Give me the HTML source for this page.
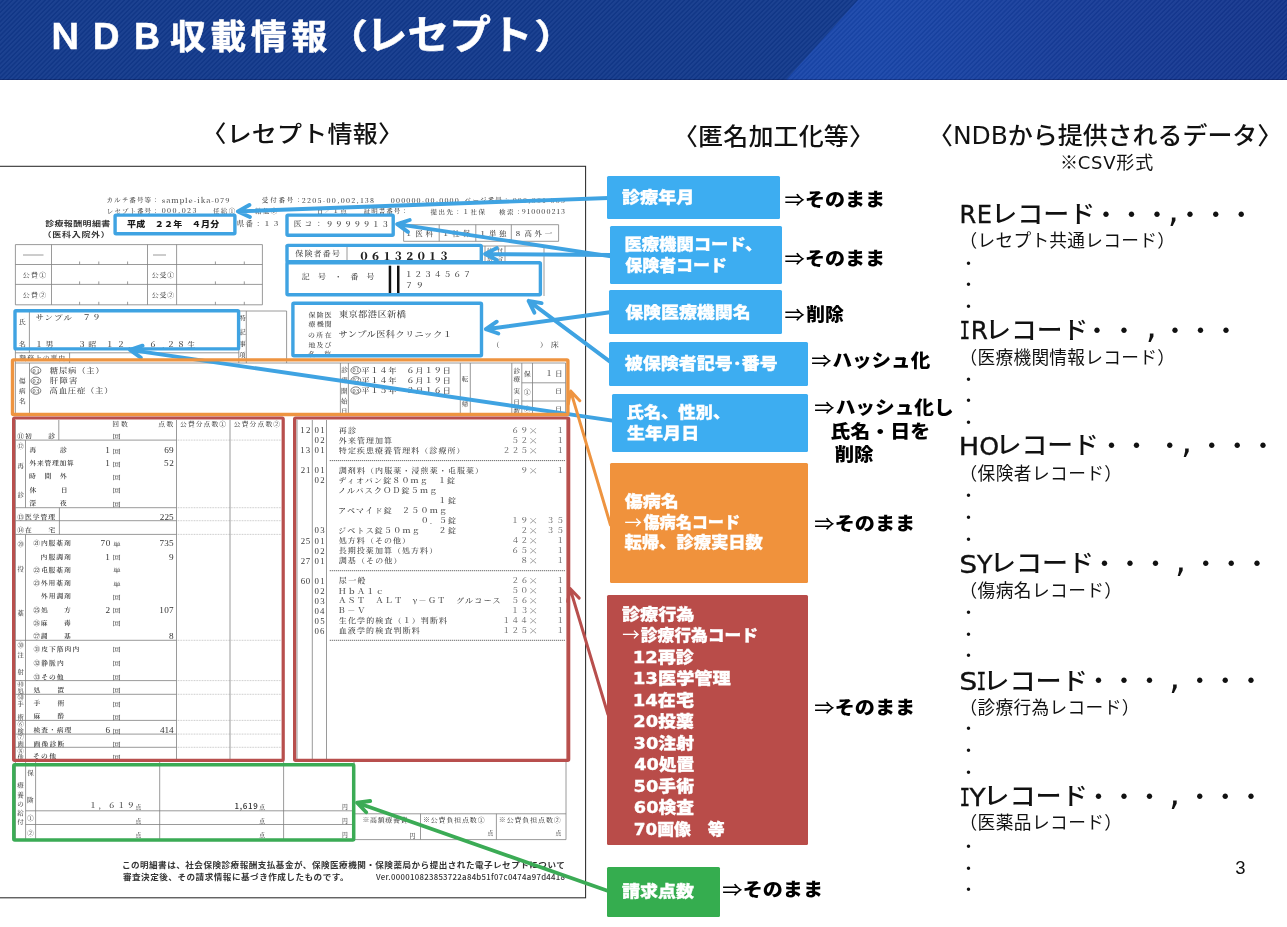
<!DOCTYPE html>
<html lang="ja">
<head>
<meta charset="utf-8">
<title>NDB収載情報（レセプト）</title>
<style>
*{margin:0;padding:0;box-sizing:border-box}
html,body{width:1287px;height:927px;overflow:hidden;background:#fff}
body{position:relative;font-family:'Noto Sans CJK JP','Liberation Sans',sans-serif;color:#000}
#slide{position:absolute;left:0;top:0;width:1287px;height:927px;overflow:hidden;background:#fff}
.b{position:absolute}
svg{position:absolute;left:0;top:0;overflow:visible}
text{white-space:pre}
.j{font-family:'Noto Sans CJK JP','Liberation Sans',sans-serif}
.d{font-family:'DejaVu Sans','Noto Sans CJK JP',sans-serif}
.s{font-family:'Liberation Sans','Noto Sans CJK JP',sans-serif}
.e{font-family:'Liberation Serif','Noto Serif CJK JP','Noto Serif CJK SC',serif}
.m{font-family:'Noto Serif CJK JP','Noto Serif CJK SC','Liberation Serif',serif}
.o{font-family:'Liberation Mono','Noto Sans CJK JP',monospace}
.k{font-family:'DejaVu Sans Mono','Liberation Mono',monospace}
.r{filter:blur(0.35px)}
</style>
</head>
<body>
<div id="slide">
<div class="b" id="hdr" style="left:0;top:0;width:1287px;height:79.6px;background:#12398c;overflow:hidden">
<div class="b" style="left:0;top:0;width:1287px;height:80px;background:linear-gradient(90deg,#1a49b1 0,#1946aa 880px,#173d9a 1050px,#14358c 1287px);clip-path:polygon(858px 0,1287px 0,1287px 80px,786px 80px)"></div>
<div class="b" style="left:0;top:0;width:1287px;height:80px;background:repeating-linear-gradient(135deg,rgba(255,255,255,0.045) 0,rgba(255,255,255,0.045) 1.2px,rgba(0,0,0,0.035) 1.9px,rgba(0,0,0,0.035) 2.8px,rgba(255,255,255,0.045) 3.3px)"></div>
<div class="b" style="left:0;top:78.6px;width:1287px;height:1px;background:rgba(0,0,40,0.25)"></div>
</div>
<svg width="1287" height="927" viewBox="0 0 1287 927"><rect x="-3" y="166.3" width="588.6" height="731.5" fill="#fff" stroke="#2a2a2a" stroke-width="1.05"/><g class="r"><path d="M403.6 224.7L558.6 224.7M403.6 241.3L558.6 241.3M403.6 224.7L403.6 241.3M439.2 224.7L439.2 241.3M475.8 224.7L475.8 241.3M511.3 224.7L511.3 241.3M558.6 224.7L558.6 241.3M15.4 244.6L262.4 244.6M15.4 264.5L262.4 264.5M15.4 284.4L262.4 284.4M15.4 304.8L262.4 304.8M15.4 244.6L15.4 304.8M51.5 244.6L51.5 304.8M147.5 244.6L147.5 304.8M176.6 244.6L176.6 304.8M262.4 244.6L262.4 304.8M79.6 261.5L79.6 264.5M98.8 261.5L98.8 264.5M127.6 261.5L127.6 264.5M215.4 261.5L215.4 264.5M244.3 261.5L244.3 264.5M79.6 281.4L79.6 284.4M98.8 281.4L98.8 284.4M127.6 281.4L127.6 284.4M215.4 281.4L215.4 284.4M244.3 281.4L244.3 284.4M79.6 301.8L79.6 304.8M98.8 301.8L98.8 304.8M127.6 301.8L127.6 304.8M215.4 301.8L215.4 304.8M244.3 301.8L244.3 304.8M23.0 255.0L43.5 255.0M153.0 255.0L166.0 255.0M285.5 246.0L544.0 246.0M347.0 246.0L347.0 262.0M544.0 246.0L544.0 296.0M485.0 246.0L485.0 262.0M505.0 246.0L505.0 262.0M29.4 311.0L29.4 352.8M15.4 352.8L238.8 352.8M69.6 352.8L69.6 363.0M15.4 311.0L15.4 363.0M238.8 311.0L238.8 363.0M246.3 311.0L246.3 363.0M286.6 311.0L286.6 363.0M238.8 311.0L286.6 311.0M15.4 363.0L565.6 363.0M15.4 414.0L565.6 414.0M15.4 363.0L15.4 414.0M29.5 363.0L29.5 414.0M340.4 363.0L340.4 414.0M348.4 363.0L348.4 414.0M460.3 363.0L460.3 414.0M470.3 363.0L470.3 414.0M511.8 363.0L511.8 414.0M521.8 363.0L521.8 414.0M532.5 363.0L532.5 414.0M565.6 363.0L565.6 414.0M521.8 382.8L565.6 382.8M521.8 401.0L565.6 401.0M15.4 420.0L15.4 761.0M176.5 420.0L176.5 761.0M230.0 420.0L230.0 761.0M283.6 420.0L283.6 840.0M25.5 440.1L25.5 507.7M25.5 534.4L25.5 761.0M58.8 420.0L58.8 440.1M59.4 507.7L59.4 534.4M15.4 440.1L176.5 440.1M15.4 507.7L176.5 507.7M15.4 520.7L176.5 520.7M15.4 534.4L176.5 534.4M15.4 640.3L176.5 640.3M15.4 680.6L176.5 680.6M15.4 694.3L176.5 694.3M15.4 720.4L176.5 720.4M15.4 734.1L176.5 734.1M15.4 747.3L176.5 747.3M297.0 420.0L297.0 761.0M312.3 420.0L312.3 761.0M326.5 420.0L326.5 761.0M566.0 762.0L566.0 839.6M15.4 764.0L355.0 764.0M15.4 839.6L566.0 839.6M15.4 762.0L15.4 839.6M25.6 762.0L25.6 839.6M35.6 762.0L35.6 839.6M159.7 762.0L159.7 839.6M25.6 810.8L355.0 810.8M25.6 824.5L355.0 824.5M354.0 762.0L354.0 839.6M355.0 813.8L566.0 813.8M420.5 813.8L420.5 839.6M496.4 813.8L496.4 839.6" stroke="#808080" stroke-width="0.8" fill="none"/><path d="M176.5 440.1L281.0 440.1M176.5 507.7L281.0 507.7M176.5 520.7L281.0 520.7M176.5 534.4L281.0 534.4M176.5 640.3L281.0 640.3M176.5 680.6L281.0 680.6M176.5 694.3L281.0 694.3M176.5 720.4L281.0 720.4M176.5 734.1L281.0 734.1M176.5 747.3L281.0 747.3" stroke="#999" stroke-width="0.6" stroke-dasharray="0.8 0.8" fill="none"/><path d="M329.8 460.6L564.8 460.6M329.8 570.7L564.8 570.7M329.8 640.3L564.8 640.3" stroke="#333" stroke-width="0.9" stroke-dasharray="1 1" fill="none"/><ellipse cx="35.9" cy="370.5" rx="4.9" ry="3.6" fill="none" stroke="#444" stroke-width="0.7"/><ellipse cx="35.9" cy="380.8" rx="4.9" ry="3.6" fill="none" stroke="#444" stroke-width="0.7"/><ellipse cx="35.9" cy="390.7" rx="4.9" ry="3.6" fill="none" stroke="#444" stroke-width="0.7"/><ellipse cx="355.8" cy="370.3" rx="4.9" ry="3.6" fill="none" stroke="#444" stroke-width="0.7"/><ellipse cx="355.8" cy="380.3" rx="4.9" ry="3.6" fill="none" stroke="#444" stroke-width="0.7"/><ellipse cx="355.8" cy="390.5" rx="4.9" ry="3.6" fill="none" stroke="#444" stroke-width="0.7"/><rect x="388.7" y="265.7" width="2.5" height="28" fill="#111"/><rect x="397" y="265.7" width="2.5" height="28" fill="#111"/></g></svg>
<svg width="1287" height="927" viewBox="0 0 1287 927"><g class="r">
<text class="m" x="106.39" y="202.69" font-size="6.51" font-weight="500" fill="#444" letter-spacing="1.131" transform="translate(107.00 200.30) scale(1 0.88) translate(-107.00 -200.30)">カルテ番号等：</text>
<text class="m" x="161.65" y="202.97" font-size="7.44" font-weight="500" fill="#444" letter-spacing="0.945" transform="translate(162.00 200.30) scale(1 0.88) translate(-162.00 -200.30)">sample-ika-079</text>
<text class="m" x="106.88" y="212.89" font-size="6.51" font-weight="500" fill="#444" letter-spacing="1.049" transform="translate(108.00 210.50) scale(1 0.88) translate(-108.00 -210.50)">レセプト番号：</text>
<text class="m" x="161.67" y="213.04" font-size="7.07" font-weight="500" fill="#444" letter-spacing="1.423" transform="translate(162.00 210.50) scale(1 0.88) translate(-162.00 -210.50)">000,023</text>
<text class="m" x="212.90" y="212.89" font-size="6.51" font-weight="500" fill="#444" letter-spacing="1.388" transform="translate(213.00 210.50) scale(1 0.88) translate(-213.00 -210.50)">任給①</text>
<text class="m" x="261.80" y="202.69" font-size="6.51" font-weight="500" fill="#444" letter-spacing="1.850" transform="translate(262.00 200.30) scale(1 0.88) translate(-262.00 -200.30)">受付番号：</text>
<text class="m" x="301.67" y="202.84" font-size="7.07" font-weight="500" fill="#444" letter-spacing="1.280" transform="translate(302.00 200.30) scale(1 0.88) translate(-302.00 -200.30)">2205-00,002,138</text>
<text class="m" x="390.87" y="202.84" font-size="7.07" font-weight="500" fill="#444" letter-spacing="1.145" transform="translate(391.20 200.30) scale(1 0.88) translate(-391.20 -200.30)">000000-00-0000</text>
<text class="m" x="464.69" y="202.69" font-size="6.51" font-weight="500" fill="#444" letter-spacing="1.198" transform="translate(465.00 200.30) scale(1 0.88) translate(-465.00 -200.30)">ページ番号：</text>
<text class="m" x="512.67" y="202.84" font-size="7.07" font-weight="500" fill="#444" letter-spacing="1.215" transform="translate(513.00 200.30) scale(1 0.88) translate(-513.00 -200.30)">000,001-003</text>
<text class="m" x="254.90" y="213.39" font-size="6.51" font-weight="500" fill="#444" letter-spacing="1.388" transform="translate(255.00 211.00) scale(1 0.88) translate(-255.00 -211.00)">給他②</text>
<text class="m" x="316.78" y="213.39" font-size="6.51" font-weight="500" fill="#444" letter-spacing="1.326" transform="translate(318.00 211.00) scale(1 0.88) translate(-318.00 -211.00)">日／１点</text>
<text class="m" x="363.80" y="213.39" font-size="6.51" font-weight="500" fill="#444" letter-spacing="0.978" transform="translate(364.00 211.00) scale(1 0.88) translate(-364.00 -211.00)">証明書番号：</text>
<text class="m" x="430.40" y="213.89" font-size="6.51" font-weight="500" fill="#444" letter-spacing="1.522" transform="translate(430.50 211.50) scale(1 0.88) translate(-430.50 -211.50)">提出先：１社保</text>
<text class="m" x="498.90" y="213.89" font-size="6.51" font-weight="500" fill="#444" letter-spacing="1.659" transform="translate(499.00 211.50) scale(1 0.88) translate(-499.00 -211.50)">検索：</text>
<text class="m" x="521.78" y="214.04" font-size="7.07" font-weight="500" fill="#444" letter-spacing="1.057" transform="translate(522.00 211.50) scale(1 0.88) translate(-522.00 -211.50)">910000213</text>
<text class="j" x="45.16" y="226.93" font-size="9.00" font-weight="700" fill="#333" letter-spacing="0.377" transform="translate(45.30 223.70) scale(1 0.82) translate(-45.30 -223.70)">診療報酬明細書</text>
<text class="j" x="42.59" y="237.23" font-size="9.00" font-weight="700" fill="#333" letter-spacing="0.719" transform="translate(48.50 234.00) scale(1 0.82) translate(-48.50 -234.00)">（医科入院外）</text>
<text class="j" x="127.12" y="227.10" font-size="9.00" font-weight="900" fill="#1a1a1a" letter-spacing="0.253" transform="translate(127.40 223.80) scale(1 0.88) translate(-127.40 -223.80)">平成　２２年　４月分</text>
<text class="m" x="236.65" y="226.73" font-size="7.44" font-weight="500" fill="#444" letter-spacing="1.473" transform="translate(237.00 224.00) scale(1 0.88) translate(-237.00 -224.00)">県番：１３</text>
<text class="m" x="293.69" y="226.80" font-size="7.63" font-weight="500" fill="#444" letter-spacing="3.077" transform="translate(294.40 224.00) scale(1 0.88) translate(-294.40 -224.00)">医コ：</text>
<text class="m" x="325.71" y="226.86" font-size="7.63" font-weight="500" fill="#444" letter-spacing="1.665" transform="translate(327.50 224.00) scale(1 0.88) translate(-327.50 -224.00)">９９９９９１３</text>
<text class="m" x="404.91" y="236.23" font-size="7.44" font-weight="500" fill="#444" letter-spacing="2.886" transform="translate(407.00 233.50) scale(1 0.88) translate(-407.00 -233.50)">１医科</text>
<text class="m" x="441.91" y="236.23" font-size="7.44" font-weight="500" fill="#444" letter-spacing="2.944" transform="translate(444.00 233.50) scale(1 0.88) translate(-444.00 -233.50)">１社保</text>
<text class="m" x="478.91" y="236.23" font-size="7.44" font-weight="500" fill="#444" letter-spacing="2.654" transform="translate(481.00 233.50) scale(1 0.88) translate(-481.00 -233.50)">１単独</text>
<text class="m" x="514.26" y="236.23" font-size="7.44" font-weight="500" fill="#444" letter-spacing="2.739" transform="translate(516.00 233.50) scale(1 0.88) translate(-516.00 -233.50)">８高外一</text>
<text class="m" x="22.78" y="277.56" font-size="6.98" font-weight="500" fill="#444" letter-spacing="1.255" transform="translate(23.00 275.00) scale(1 0.88) translate(-23.00 -275.00)">公費①</text>
<text class="m" x="22.78" y="297.16" font-size="6.98" font-weight="500" fill="#444" letter-spacing="1.255" transform="translate(23.00 294.60) scale(1 0.88) translate(-23.00 -294.60)">公費②</text>
<text class="m" x="151.78" y="277.56" font-size="6.98" font-weight="500" fill="#444" letter-spacing="0.755" transform="translate(152.00 275.00) scale(1 0.88) translate(-152.00 -275.00)">公受①</text>
<text class="m" x="151.78" y="297.16" font-size="6.98" font-weight="500" fill="#444" letter-spacing="0.755" transform="translate(152.00 294.60) scale(1 0.88) translate(-152.00 -294.60)">公受②</text>
<text class="m" x="295.28" y="256.74" font-size="8.00" font-weight="500" fill="#444" letter-spacing="1.171" transform="translate(295.40 253.80) scale(1 0.88) translate(-295.40 -253.80)">保険者番号</text>
<text class="m" x="358.83" y="259.74" font-size="10.50" font-weight="900" fill="#222" letter-spacing="0.924">０６１３２０１３</text>
<text class="m" x="486.91" y="252.55" font-size="5.58" font-weight="500" fill="#444" letter-spacing="5.014" transform="translate(487.00 250.50) scale(1 0.88) translate(-487.00 -250.50)">給付</text>
<text class="m" x="487.00" y="260.05" font-size="5.58" font-weight="500" fill="#444" letter-spacing="4.927" transform="translate(487.00 258.00) scale(1 0.88) translate(-487.00 -258.00)">割合</text>
<text class="m" x="301.75" y="279.34" font-size="8.00" font-weight="500" fill="#444" letter-spacing="0.127" transform="translate(302.00 276.40) scale(1 0.88) translate(-302.00 -276.40)">記　号　・　番　号</text>
<text class="m" x="404.65" y="277.00" font-size="8.00" font-weight="500" fill="#444" letter-spacing="1.727" transform="translate(406.90 274.00) scale(1 0.88) translate(-406.90 -274.00)">１２３４５６７</text>
<text class="m" x="405.03" y="288.00" font-size="8.00" font-weight="500" fill="#444" letter-spacing="2.728" transform="translate(406.90 285.00) scale(1 0.88) translate(-406.90 -285.00)">７９</text>
<text class="m" x="18.86" y="324.26" font-size="6.98" font-weight="500" fill="#444" transform="translate(19.18 321.70) scale(1 0.88) translate(-19.18 -321.70)">氏</text><text class="m" x="19.08" y="346.22" font-size="6.98" font-weight="500" fill="#444" transform="translate(19.29 343.60) scale(1 0.88) translate(-19.29 -343.60)">名</text>
<text class="m" x="35.48" y="320.07" font-size="8.37" font-weight="500" fill="#444" letter-spacing="1.211" transform="translate(36.00 317.00) scale(1 0.88) translate(-36.00 -317.00)">サンプル　７９</text>
<text class="m" x="35.05" y="346.94" font-size="8.00" font-weight="500" fill="#444" letter-spacing="2.578" transform="translate(37.30 344.00) scale(1 0.88) translate(-37.30 -344.00)">１男</text>
<text class="m" x="78.00" y="346.94" font-size="8.00" font-weight="500" fill="#444" letter-spacing="2.253" transform="translate(80.00 344.00) scale(1 0.88) translate(-80.00 -344.00)">３昭</text>
<text class="m" x="105.75" y="347.06" font-size="8.00" font-weight="500" fill="#444" letter-spacing="3.189" transform="translate(108.00 344.00) scale(1 0.88) translate(-108.00 -344.00)">１２．</text>
<text class="m" x="149.13" y="347.00" font-size="8.00" font-weight="500" fill="#444" letter-spacing="5.002" transform="translate(151.00 344.00) scale(1 0.88) translate(-151.00 -344.00)">６．</text>
<text class="m" x="167.00" y="346.94" font-size="8.00" font-weight="500" fill="#444" letter-spacing="2.128" transform="translate(169.00 344.00) scale(1 0.88) translate(-169.00 -344.00)">２８生</text>
<text class="m" x="19.29" y="360.36" font-size="6.98" font-weight="500" fill="#444" letter-spacing="0.821" transform="translate(19.40 357.80) scale(1 0.88) translate(-19.40 -357.80)">職務上の事由</text>
<text class="m" x="239.73" y="320.27" font-size="6.04" font-weight="500" fill="#444" transform="translate(239.82 318.00) scale(1 0.88) translate(-239.82 -318.00)">特</text><text class="m" x="239.77" y="333.87" font-size="6.04" font-weight="500" fill="#444" transform="translate(239.96 331.60) scale(1 0.88) translate(-239.96 -331.60)">記</text><text class="m" x="239.68" y="346.27" font-size="6.04" font-weight="500" fill="#444" transform="translate(239.87 344.00) scale(1 0.88) translate(-239.87 -344.00)">事</text><text class="m" x="239.59" y="357.17" font-size="6.04" font-weight="500" fill="#444" transform="translate(239.77 355.00) scale(1 0.88) translate(-239.77 -355.00)">項</text>
<text class="m" x="308.49" y="317.26" font-size="6.98" font-weight="500" fill="#444" letter-spacing="1.151" transform="translate(308.60 314.70) scale(1 0.88) translate(-308.60 -314.70)">保険医</text>
<text class="m" x="308.49" y="326.76" font-size="6.98" font-weight="500" fill="#444" letter-spacing="1.205" transform="translate(308.60 324.20) scale(1 0.88) translate(-308.60 -324.20)">療機関</text>
<text class="m" x="307.95" y="337.46" font-size="6.98" font-weight="500" fill="#444" letter-spacing="1.423" transform="translate(308.60 334.90) scale(1 0.88) translate(-308.60 -334.90)">の所在</text>
<text class="m" x="308.49" y="347.16" font-size="6.98" font-weight="500" fill="#444" letter-spacing="1.096" transform="translate(308.60 344.60) scale(1 0.88) translate(-308.60 -344.60)">地及び</text>
<text class="m" x="308.38" y="356.56" font-size="6.98" font-weight="500" fill="#444" letter-spacing="0.933" transform="translate(308.60 354.00) scale(1 0.88) translate(-308.60 -354.00)">名　称</text>
<text class="m" x="338.91" y="317.58" font-size="9.21" font-weight="500" fill="#444" letter-spacing="0.421" transform="translate(339.20 314.20) scale(1 0.84) translate(-339.20 -314.20)">東京都港区新橋</text>
<text class="m" x="338.62" y="337.38" font-size="9.21" font-weight="500" fill="#444" letter-spacing="0.394" transform="translate(339.20 334.00) scale(1 0.84) translate(-339.20 -334.00)">サンプル医科クリニック１</text>
<text class="m" x="491.88" y="347.06" font-size="8.00" font-weight="500" fill="#444" transform="translate(497.00 344.00) scale(1 0.88) translate(-497.00 -344.00)">（</text>
<text class="m" x="539.63" y="346.94" font-size="8.00" font-weight="500" fill="#444" letter-spacing="3.104" transform="translate(540.00 344.00) scale(1 0.88) translate(-540.00 -344.00)">）床</text>
<text class="m" x="18.77" y="383.62" font-size="6.98" font-weight="500" fill="#444" transform="translate(18.88 381.00) scale(1 0.88) translate(-18.88 -381.00)">傷</text><text class="m" x="18.77" y="393.32" font-size="6.98" font-weight="500" fill="#444" transform="translate(18.88 390.70) scale(1 0.88) translate(-18.88 -390.70)">病</text><text class="m" x="18.88" y="403.12" font-size="6.98" font-weight="500" fill="#444" transform="translate(19.09 400.50) scale(1 0.88) translate(-19.09 -400.50)">名</text>
<text class="e" x="32.41" y="372.53" font-size="6.20" fill="#444" letter-spacing="0.884">01</text>
<text class="m" x="49.87" y="373.57" font-size="8.37" font-weight="500" fill="#444" letter-spacing="0.755" transform="translate(50.00 370.50) scale(1 0.88) translate(-50.00 -370.50)">糖尿病（主）</text>
<text class="e" x="32.41" y="382.83" font-size="6.20" fill="#444" letter-spacing="0.884">02</text>
<text class="m" x="49.87" y="383.87" font-size="8.37" font-weight="500" fill="#444" letter-spacing="1.191" transform="translate(50.00 380.80) scale(1 0.88) translate(-50.00 -380.80)">肝障害</text>
<text class="e" x="32.41" y="392.73" font-size="6.20" fill="#444" letter-spacing="0.788">03</text>
<text class="m" x="49.61" y="393.77" font-size="8.37" font-weight="500" fill="#444" letter-spacing="0.744" transform="translate(50.00 390.70) scale(1 0.88) translate(-50.00 -390.70)">高血圧症（主）</text>
<text class="m" x="341.19" y="372.74" font-size="6.51" font-weight="500" fill="#444" transform="translate(341.40 370.30) scale(1 0.88) translate(-341.40 -370.30)">診</text><text class="m" x="341.25" y="382.74" font-size="6.51" font-weight="500" fill="#444" transform="translate(341.35 380.30) scale(1 0.88) translate(-341.35 -380.30)">療</text><text class="m" x="341.09" y="393.39" font-size="6.51" font-weight="500" fill="#444" transform="translate(341.70 391.00) scale(1 0.88) translate(-341.70 -391.00)">開</text><text class="m" x="341.04" y="403.44" font-size="6.51" font-weight="500" fill="#444" transform="translate(341.14 401.00) scale(1 0.88) translate(-341.14 -401.00)">始</text><text class="m" x="341.09" y="413.34" font-size="6.51" font-weight="500" fill="#444" transform="translate(342.31 411.00) scale(1 0.88) translate(-342.31 -411.00)">日</text>
<text class="e" x="352.41" y="372.33" font-size="6.20" fill="#444" letter-spacing="0.684">01</text>
<text class="m" x="361.24" y="373.37" font-size="8.37" font-weight="500" fill="#444" letter-spacing="0.660" transform="translate(361.50 370.30) scale(1 0.88) translate(-361.50 -370.30)">平１４年　６月１９日</text>
<text class="e" x="352.41" y="382.33" font-size="6.20" fill="#444" letter-spacing="0.684">02</text>
<text class="m" x="361.24" y="383.37" font-size="8.37" font-weight="500" fill="#444" letter-spacing="0.660" transform="translate(361.50 380.30) scale(1 0.88) translate(-361.50 -380.30)">平１４年　６月１９日</text>
<text class="e" x="352.41" y="392.53" font-size="6.20" fill="#444" letter-spacing="0.587">03</text>
<text class="m" x="361.24" y="393.57" font-size="8.37" font-weight="500" fill="#444" letter-spacing="0.660" transform="translate(361.50 390.50) scale(1 0.88) translate(-361.50 -390.50)">平１５年　２月１６日</text>
<text class="m" x="461.74" y="380.89" font-size="6.51" font-weight="500" fill="#444" transform="translate(461.94 378.60) scale(1 0.88) translate(-461.94 -378.60)">転</text><text class="m" x="461.84" y="406.64" font-size="6.51" font-weight="500" fill="#444" transform="translate(462.25 404.20) scale(1 0.88) translate(-462.25 -404.20)">帰</text><text class="m" x="513.44" y="373.74" font-size="6.51" font-weight="500" fill="#444" transform="translate(513.65 371.30) scale(1 0.88) translate(-513.65 -371.30)">診</text><text class="m" x="513.50" y="381.74" font-size="6.51" font-weight="500" fill="#444" transform="translate(513.60 379.30) scale(1 0.88) translate(-513.60 -379.30)">療</text><text class="m" x="513.44" y="393.34" font-size="6.51" font-weight="500" fill="#444" transform="translate(513.75 390.90) scale(1 0.88) translate(-513.75 -390.90)">実</text><text class="m" x="513.34" y="403.94" font-size="6.51" font-weight="500" fill="#444" transform="translate(514.56 401.60) scale(1 0.88) translate(-514.56 -401.60)">日</text><text class="m" x="513.50" y="413.74" font-size="6.51" font-weight="500" fill="#444" transform="translate(513.60 411.30) scale(1 0.88) translate(-513.60 -411.30)">数</text><text class="m" x="523.76" y="376.22" font-size="6.98" font-weight="500" fill="#444" transform="translate(523.87 373.60) scale(1 0.88) translate(-523.87 -373.60)">保</text>
<text class="m" x="523.76" y="394.37" font-size="6.98" font-weight="500" fill="#444" transform="translate(523.98 391.70) scale(1 0.88) translate(-523.98 -391.70)">①</text>
<text class="m" x="523.76" y="411.07" font-size="6.98" font-weight="500" fill="#444" transform="translate(523.98 408.40) scale(1 0.88) translate(-523.98 -408.40)">②</text>
<text class="m" x="545.26" y="376.40" font-size="7.63" font-weight="500" fill="#444" letter-spacing="2.165" transform="translate(547.40 373.60) scale(1 0.88) translate(-547.40 -373.60)">１日</text>
<text class="m" x="554.95" y="393.01" font-size="6.98" font-weight="500" fill="#444" transform="translate(556.26 390.50) scale(1 0.88) translate(-556.26 -390.50)">日</text><text class="m" x="554.95" y="410.91" font-size="6.98" font-weight="500" fill="#444" transform="translate(556.26 408.40) scale(1 0.88) translate(-556.26 -408.40)">日</text>
<text class="m" x="112.36" y="426.79" font-size="6.79" font-weight="500" fill="#444" letter-spacing="1.865" transform="translate(113.00 424.30) scale(1 0.88) translate(-113.00 -424.30)">回数</text>
<text class="m" x="158.29" y="426.79" font-size="6.79" font-weight="500" fill="#444" letter-spacing="1.540" transform="translate(158.50 424.30) scale(1 0.88) translate(-158.50 -424.30)">点数</text>
<text class="m" x="180.09" y="426.79" font-size="6.79" font-weight="500" fill="#444" letter-spacing="1.078" transform="translate(180.30 424.30) scale(1 0.88) translate(-180.30 -424.30)">公費分点数①</text>
<text class="m" x="233.79" y="426.79" font-size="6.79" font-weight="500" fill="#444" letter-spacing="1.138" transform="translate(234.00 424.30) scale(1 0.88) translate(-234.00 -424.30)">公費分点数②</text>
<text class="m" x="17.19" y="438.35" font-size="6.79" font-weight="600" fill="#3c3c3c" letter-spacing="1.017" transform="translate(17.40 435.80) scale(1 0.88) translate(-17.40 -435.80)">⑪初　　診</text>
<text class="m" x="112.62" y="438.90" font-size="6.14" fill="#444" transform="translate(113.20 436.60) scale(1.4289 0.8) translate(-113.20 -436.60)">回</text>
<text class="m" x="29.39" y="452.75" font-size="6.79" font-weight="600" fill="#3c3c3c" letter-spacing="0.865" transform="translate(29.50 450.20) scale(1 0.88) translate(-29.50 -450.20)">再　　　診</text>
<text class="m" x="112.62" y="453.30" font-size="6.14" fill="#444" transform="translate(113.20 451.00) scale(1.4289 0.8) translate(-113.20 -451.00)">回</text>
<text class="e" x="105.36" y="453.29" font-size="9.20" fill="#333">1</text>
<text class="e" x="164.21" y="453.22" font-size="9.20" fill="#333" letter-spacing="0.275">69</text>
<text class="m" x="29.39" y="465.65" font-size="6.79" font-weight="600" fill="#3c3c3c" letter-spacing="0.777" transform="translate(29.50 463.10) scale(1 0.88) translate(-29.50 -463.10)">外来管理加算</text>
<text class="m" x="112.62" y="466.20" font-size="6.14" fill="#444" transform="translate(113.20 463.90) scale(1.4289 0.8) translate(-113.20 -463.90)">回</text>
<text class="e" x="105.36" y="466.19" font-size="9.20" fill="#333">1</text>
<text class="e" x="164.07" y="466.12" font-size="9.20" fill="#333" letter-spacing="0.563">52</text>
<text class="m" x="29.08" y="478.75" font-size="6.79" font-weight="600" fill="#3c3c3c" letter-spacing="0.945" transform="translate(29.50 476.20) scale(1 0.88) translate(-29.50 -476.20)">時　間　外</text>
<text class="m" x="112.62" y="479.30" font-size="6.14" fill="#444" transform="translate(113.20 477.00) scale(1.4289 0.8) translate(-113.20 -477.00)">回</text>
<text class="m" x="29.39" y="492.25" font-size="6.79" font-weight="600" fill="#3c3c3c" letter-spacing="1.104" transform="translate(29.50 489.70) scale(1 0.88) translate(-29.50 -489.70)">休　　　日</text>
<text class="m" x="112.62" y="492.80" font-size="6.14" fill="#444" transform="translate(113.20 490.50) scale(1.4289 0.8) translate(-113.20 -490.50)">回</text>
<text class="m" x="29.29" y="505.55" font-size="6.79" font-weight="600" fill="#3c3c3c" letter-spacing="0.918" transform="translate(29.50 503.00) scale(1 0.88) translate(-29.50 -503.00)">深　　　夜</text>
<text class="m" x="112.62" y="506.10" font-size="6.14" fill="#444" transform="translate(113.20 503.80) scale(1.4289 0.8) translate(-113.20 -503.80)">回</text>
<text class="m" x="17.19" y="519.05" font-size="6.79" font-weight="600" fill="#3c3c3c" letter-spacing="1.017" transform="translate(17.40 516.50) scale(1 0.88) translate(-17.40 -516.50)">⑬医学管理</text>
<text class="e" x="159.76" y="519.52" font-size="9.20" fill="#333" letter-spacing="0.062">225</text>
<text class="m" x="17.19" y="532.25" font-size="6.79" font-weight="600" fill="#3c3c3c" letter-spacing="1.070" transform="translate(17.40 529.70) scale(1 0.88) translate(-17.40 -529.70)">⑭在　　宅</text>
<text class="m" x="33.19" y="545.55" font-size="6.79" font-weight="600" fill="#3c3c3c" letter-spacing="0.945" transform="translate(33.40 543.00) scale(1 0.88) translate(-33.40 -543.00)">㉑内服薬剤</text>
<text class="m" x="113.01" y="546.10" font-size="6.14" fill="#444" transform="translate(113.20 543.80) scale(1.286 0.8) translate(-113.20 -543.80)">単</text>
<text class="e" x="100.62" y="546.02" font-size="9.20" fill="#333" letter-spacing="0.462">70</text>
<text class="e" x="159.48" y="546.02" font-size="9.20" fill="#333" letter-spacing="0.206">735</text>
<text class="m" x="40.56" y="559.15" font-size="6.79" font-weight="600" fill="#3c3c3c" letter-spacing="1.064" transform="translate(41.20 556.60) scale(1 0.88) translate(-41.20 -556.60)">内服調剤</text>
<text class="m" x="112.62" y="559.70" font-size="6.14" fill="#444" transform="translate(113.20 557.40) scale(1.4289 0.8) translate(-113.20 -557.40)">回</text>
<text class="e" x="105.36" y="559.69" font-size="9.20" fill="#333">1</text>
<text class="e" x="168.88" y="559.62" font-size="9.20" fill="#333">9</text>
<text class="m" x="33.19" y="572.35" font-size="6.79" font-weight="600" fill="#3c3c3c" letter-spacing="0.945" transform="translate(33.40 569.80) scale(1 0.88) translate(-33.40 -569.80)">㉒屯服薬剤</text>
<text class="m" x="113.01" y="572.90" font-size="6.14" fill="#444" transform="translate(113.20 570.60) scale(1.286 0.8) translate(-113.20 -570.60)">単</text>
<text class="m" x="33.19" y="585.45" font-size="6.79" font-weight="600" fill="#3c3c3c" letter-spacing="0.945" transform="translate(33.40 582.90) scale(1 0.88) translate(-33.40 -582.90)">㉓外用薬剤</text>
<text class="m" x="113.01" y="586.00" font-size="6.14" fill="#444" transform="translate(113.20 583.70) scale(1.286 0.8) translate(-113.20 -583.70)">単</text>
<text class="m" x="41.09" y="598.75" font-size="6.79" font-weight="600" fill="#3c3c3c" letter-spacing="0.887" transform="translate(41.20 596.20) scale(1 0.88) translate(-41.20 -596.20)">外用調剤</text>
<text class="m" x="112.62" y="599.30" font-size="6.14" fill="#444" transform="translate(113.20 597.00) scale(1.4289 0.8) translate(-113.20 -597.00)">回</text>
<text class="m" x="33.19" y="612.35" font-size="6.79" font-weight="600" fill="#3c3c3c" letter-spacing="0.945" transform="translate(33.40 609.80) scale(1 0.88) translate(-33.40 -609.80)">㉕処　　方</text>
<text class="m" x="112.62" y="612.90" font-size="6.14" fill="#444" transform="translate(113.20 610.60) scale(1.4289 0.8) translate(-113.20 -610.60)">回</text>
<text class="e" x="105.57" y="612.89" font-size="9.20" fill="#333">2</text>
<text class="e" x="159.33" y="612.82" font-size="9.20" fill="#333" letter-spacing="0.206">107</text>
<text class="m" x="33.19" y="625.15" font-size="6.79" font-weight="600" fill="#3c3c3c" letter-spacing="0.918" transform="translate(33.40 622.60) scale(1 0.88) translate(-33.40 -622.60)">㉖麻　　毒</text>
<text class="m" x="112.62" y="625.70" font-size="6.14" fill="#444" transform="translate(113.20 623.40) scale(1.4289 0.8) translate(-113.20 -623.40)">回</text>
<text class="m" x="33.19" y="638.55" font-size="6.79" font-weight="600" fill="#3c3c3c" letter-spacing="0.918" transform="translate(33.40 636.00) scale(1 0.88) translate(-33.40 -636.00)">㉗調　　基</text>
<text class="e" x="168.88" y="639.02" font-size="9.20" fill="#333">8</text>
<text class="m" x="33.39" y="651.35" font-size="6.79" font-weight="600" fill="#3c3c3c" letter-spacing="1.039" transform="translate(33.60 648.80) scale(1 0.88) translate(-33.60 -648.80)">㉛皮下筋肉内</text>
<text class="m" x="112.62" y="651.90" font-size="6.14" fill="#444" transform="translate(113.20 649.60) scale(1.4289 0.8) translate(-113.20 -649.60)">回</text>
<text class="m" x="33.39" y="665.25" font-size="6.79" font-weight="600" fill="#3c3c3c" letter-spacing="1.091" transform="translate(33.60 662.70) scale(1 0.88) translate(-33.60 -662.70)">㉜静脈内</text>
<text class="m" x="112.62" y="665.80" font-size="6.14" fill="#444" transform="translate(113.20 663.50) scale(1.4289 0.8) translate(-113.20 -663.50)">回</text>
<text class="m" x="33.39" y="679.05" font-size="6.79" font-weight="600" fill="#3c3c3c" letter-spacing="1.021" transform="translate(33.60 676.50) scale(1 0.88) translate(-33.60 -676.50)">㉝その他</text>
<text class="m" x="112.62" y="679.60" font-size="6.14" fill="#444" transform="translate(113.20 677.30) scale(1.4289 0.8) translate(-113.20 -677.30)">回</text>
<text class="m" x="33.49" y="692.05" font-size="6.79" font-weight="600" fill="#3c3c3c" letter-spacing="1.254" transform="translate(33.60 689.50) scale(1 0.88) translate(-33.60 -689.50)">処　　置</text>
<text class="m" x="112.62" y="692.60" font-size="6.14" fill="#444" transform="translate(113.20 690.30) scale(1.4289 0.8) translate(-113.20 -690.30)">回</text>
<text class="m" x="33.49" y="705.55" font-size="6.79" font-weight="600" fill="#3c3c3c" letter-spacing="1.219" transform="translate(33.60 703.00) scale(1 0.88) translate(-33.60 -703.00)">手　　術</text>
<text class="m" x="112.62" y="706.10" font-size="6.14" fill="#444" transform="translate(113.20 703.80) scale(1.4289 0.8) translate(-113.20 -703.80)">回</text>
<text class="m" x="33.39" y="718.55" font-size="6.79" font-weight="600" fill="#3c3c3c" letter-spacing="1.254" transform="translate(33.60 716.00) scale(1 0.88) translate(-33.60 -716.00)">麻　　酔</text>
<text class="m" x="112.62" y="719.10" font-size="6.14" fill="#444" transform="translate(113.20 716.80) scale(1.4289 0.8) translate(-113.20 -716.80)">回</text>
<text class="m" x="33.49" y="732.55" font-size="6.79" font-weight="600" fill="#3c3c3c" letter-spacing="0.990" transform="translate(33.60 730.00) scale(1 0.88) translate(-33.60 -730.00)">検査・病理</text>
<text class="m" x="112.62" y="733.10" font-size="6.14" fill="#444" transform="translate(113.20 730.80) scale(1.4289 0.8) translate(-113.20 -730.80)">回</text>
<text class="e" x="105.43" y="733.02" font-size="9.20" fill="#333">6</text>
<text class="e" x="159.91" y="733.09" font-size="9.20" fill="#333" letter-spacing="-0.081">414</text>
<text class="m" x="33.39" y="745.95" font-size="6.79" font-weight="600" fill="#3c3c3c" letter-spacing="1.254" transform="translate(33.60 743.40) scale(1 0.88) translate(-33.60 -743.40)">画像診断</text>
<text class="m" x="112.62" y="746.50" font-size="6.14" fill="#444" transform="translate(113.20 744.20) scale(1.4289 0.8) translate(-113.20 -744.20)">回</text>
<text class="m" x="32.96" y="758.55" font-size="6.79" font-weight="600" fill="#3c3c3c" letter-spacing="1.388" transform="translate(33.60 756.00) scale(1 0.88) translate(-33.60 -756.00)">その他</text>
<text class="m" x="112.62" y="759.10" font-size="6.14" fill="#444" transform="translate(113.20 756.80) scale(1.4289 0.8) translate(-113.20 -756.80)">回</text>
<text class="m" x="17.44" y="448.02" font-size="6.32" font-weight="500" fill="#444" transform="translate(17.64 445.60) scale(1 0.88) translate(-17.64 -445.60)">⑫</text>
<text class="m" x="17.39" y="468.12" font-size="6.32" font-weight="500" fill="#444" transform="translate(17.59 465.80) scale(1 0.88) translate(-17.59 -465.80)">再</text><text class="m" x="17.39" y="497.37" font-size="6.32" font-weight="500" fill="#444" transform="translate(17.59 495.00) scale(1 0.88) translate(-17.59 -495.00)">診</text>
<text class="m" x="17.44" y="546.12" font-size="6.32" font-weight="500" fill="#444" transform="translate(17.64 543.70) scale(1 0.88) translate(-17.64 -543.70)">⑳</text>
<text class="m" x="17.44" y="571.77" font-size="6.32" font-weight="500" fill="#444" transform="translate(17.54 569.40) scale(1 0.88) translate(-17.54 -569.40)">投</text><text class="m" x="17.44" y="615.27" font-size="6.32" font-weight="500" fill="#444" transform="translate(17.54 612.90) scale(1 0.88) translate(-17.54 -612.90)">薬</text>
<text class="m" x="17.44" y="647.02" font-size="6.32" font-weight="500" fill="#444" transform="translate(17.64 644.60) scale(1 0.88) translate(-17.64 -644.60)">㉚</text>
<text class="m" x="17.39" y="657.67" font-size="6.32" font-weight="500" fill="#444" transform="translate(17.59 655.30) scale(1 0.88) translate(-17.59 -655.30)">注</text><text class="m" x="17.44" y="674.77" font-size="6.32" font-weight="500" fill="#444" transform="translate(17.54 672.40) scale(1 0.88) translate(-17.54 -672.40)">射</text>
<text class="m" x="17.44" y="685.92" font-size="6.32" font-weight="500" fill="#444" transform="translate(17.64 683.50) scale(1 0.88) translate(-17.64 -683.50)">㊵</text>
<text class="m" x="17.39" y="692.87" font-size="6.32" font-weight="500" fill="#444" transform="translate(17.59 690.50) scale(1 0.88) translate(-17.59 -690.50)">処</text>
<text class="m" x="17.44" y="699.42" font-size="6.32" font-weight="500" fill="#444" transform="translate(17.64 697.00) scale(1 0.88) translate(-17.64 -697.00)">㊿</text>
<text class="m" x="17.44" y="706.37" font-size="6.32" font-weight="500" fill="#444" transform="translate(17.54 704.00) scale(1 0.88) translate(-17.54 -704.00)">手</text><text class="m" x="17.44" y="718.87" font-size="6.32" font-weight="500" fill="#444" transform="translate(17.54 716.50) scale(1 0.88) translate(-17.54 -716.50)">術</text>
<text class="m" x="17.44" y="725.92" font-size="6.32" font-weight="500" fill="#444" transform="translate(17.64 723.50) scale(1 0.88) translate(-17.64 -723.50)">⑥</text>
<text class="m" x="17.44" y="732.87" font-size="6.32" font-weight="500" fill="#444" transform="translate(17.54 730.50) scale(1 0.88) translate(-17.54 -730.50)">検</text>
<text class="m" x="17.44" y="739.42" font-size="6.32" font-weight="500" fill="#444" transform="translate(17.64 737.00) scale(1 0.88) translate(-17.64 -737.00)">⑦</text>
<text class="m" x="17.44" y="746.37" font-size="6.32" font-weight="500" fill="#444" transform="translate(17.64 744.00) scale(1 0.88) translate(-17.64 -744.00)">画</text>
<text class="m" x="17.44" y="752.92" font-size="6.32" font-weight="500" fill="#444" transform="translate(17.64 750.50) scale(1 0.88) translate(-17.64 -750.50)">⑧</text>
<text class="m" x="17.39" y="759.37" font-size="6.32" font-weight="500" fill="#444" transform="translate(17.59 757.00) scale(1 0.88) translate(-17.59 -757.00)">他</text>
<text class="e" x="300.31" y="433.26" font-size="8.80" fill="#3a3a3a" letter-spacing="1.300">12</text>
<text class="e" x="314.53" y="433.19" font-size="8.80" fill="#3a3a3a" letter-spacing="1.387">01</text>
<text class="m" x="338.75" y="433.24" font-size="8.00" font-weight="500" fill="#444" letter-spacing="1.250" transform="translate(339.00 430.30) scale(1 0.88) translate(-339.00 -430.30)">再診</text>
<text class="m" x="511.33" y="433.24" font-size="8.00" fill="#5a5a5a" letter-spacing="1.053" transform="translate(513.20 430.30) scale(1 0.88) translate(-513.20 -430.30)">６９</text>
<text class="m" x="528.63" y="433.57" font-size="8.37" fill="#777" transform="translate(530.20 430.50) scale(1.1852 1.05) translate(-530.20 -430.50)">×</text>
<text class="m" x="556.29" y="433.24" font-size="8.00" fill="#5a5a5a" transform="translate(558.54 430.30) scale(1 0.88) translate(-558.54 -430.30)">１</text>
<text class="e" x="314.53" y="443.22" font-size="8.80" fill="#3a3a3a" letter-spacing="1.387">02</text>
<text class="m" x="338.88" y="443.27" font-size="8.00" font-weight="500" fill="#444" letter-spacing="1.065" transform="translate(339.00 440.33) scale(1 0.88) translate(-339.00 -440.33)">外来管理加算</text>
<text class="m" x="511.20" y="443.27" font-size="8.00" fill="#5a5a5a" letter-spacing="1.178" transform="translate(513.20 440.33) scale(1 0.88) translate(-513.20 -440.33)">５２</text>
<text class="m" x="528.63" y="443.60" font-size="8.37" fill="#777" transform="translate(530.20 440.53) scale(1.1852 1.05) translate(-530.20 -440.53)">×</text>
<text class="m" x="556.29" y="443.27" font-size="8.00" fill="#5a5a5a" transform="translate(558.54 440.33) scale(1 0.88) translate(-558.54 -440.33)">１</text>
<text class="e" x="300.31" y="453.25" font-size="8.80" fill="#3a3a3a" letter-spacing="1.162">13</text>
<text class="e" x="314.53" y="453.25" font-size="8.80" fill="#3a3a3a" letter-spacing="1.387">01</text>
<text class="m" x="338.88" y="453.30" font-size="8.00" font-weight="500" fill="#444" letter-spacing="1.068" transform="translate(339.00 450.36) scale(1 0.88) translate(-339.00 -450.36)">特定疾患療養管理料（診療所）</text>
<text class="m" x="502.50" y="453.30" font-size="8.00" fill="#5a5a5a" letter-spacing="0.940" transform="translate(504.50 450.36) scale(1 0.88) translate(-504.50 -450.36)">２２５</text>
<text class="m" x="528.63" y="453.63" font-size="8.37" fill="#777" transform="translate(530.20 450.56) scale(1.1852 1.05) translate(-530.20 -450.56)">×</text>
<text class="m" x="556.29" y="453.30" font-size="8.00" fill="#5a5a5a" transform="translate(558.54 450.36) scale(1 0.88) translate(-558.54 -450.36)">１</text>
<text class="e" x="300.73" y="473.38" font-size="8.80" fill="#3a3a3a" letter-spacing="0.887">21</text>
<text class="e" x="314.53" y="473.31" font-size="8.80" fill="#3a3a3a" letter-spacing="1.387">01</text>
<text class="m" x="338.75" y="473.36" font-size="8.00" font-weight="500" fill="#444" letter-spacing="1.111" transform="translate(339.00 470.42) scale(1 0.88) translate(-339.00 -470.42)">調剤料（内服薬・浸煎薬・屯服薬）</text>
<text class="m" x="520.14" y="473.36" font-size="8.00" fill="#5a5a5a" transform="translate(522.14 470.42) scale(1 0.88) translate(-522.14 -470.42)">９</text>
<text class="m" x="528.63" y="473.69" font-size="8.37" fill="#777" transform="translate(530.20 470.62) scale(1.1852 1.05) translate(-530.20 -470.62)">×</text>
<text class="m" x="556.29" y="473.36" font-size="8.00" fill="#5a5a5a" transform="translate(558.54 470.42) scale(1 0.88) translate(-558.54 -470.42)">１</text>
<text class="e" x="314.53" y="483.34" font-size="8.80" fill="#3a3a3a" letter-spacing="1.387">02</text>
<text class="m" x="338.25" y="483.39" font-size="8.00" font-weight="500" fill="#444" letter-spacing="1.158" transform="translate(339.00 480.45) scale(1 0.88) translate(-339.00 -480.45)">ディオバン錠８０ｍｇ　１錠</text>
<text class="m" x="338.00" y="493.42" font-size="8.00" font-weight="500" fill="#444" letter-spacing="1.224" transform="translate(339.00 490.48) scale(1 0.88) translate(-339.00 -490.48)">ノルバスクＯＤ錠５ｍｇ</text>
<text class="m" x="438.20" y="503.45" font-size="8.00" font-weight="500" fill="#444" letter-spacing="1.926" transform="translate(440.45 500.51) scale(1 0.88) translate(-440.45 -500.51)">１錠</text>
<text class="m" x="338.00" y="513.48" font-size="8.00" font-weight="500" fill="#444" letter-spacing="1.245" transform="translate(339.00 510.54) scale(1 0.88) translate(-339.00 -510.54)">アベマイド錠　２５０ｍｇ</text>
<text class="m" x="510.95" y="523.51" font-size="8.00" fill="#5a5a5a" letter-spacing="1.428" transform="translate(513.20 520.57) scale(1 0.88) translate(-513.20 -520.57)">１９</text>
<text class="m" x="528.63" y="523.84" font-size="8.37" fill="#777" transform="translate(530.20 520.77) scale(1.1852 1.05) translate(-530.20 -520.77)">×</text>
<text class="m" x="546.50" y="523.51" font-size="8.00" fill="#5a5a5a" letter-spacing="1.778" transform="translate(548.50 520.57) scale(1 0.88) translate(-548.50 -520.57)">３５</text>
<text class="m" x="420.66" y="523.51" font-size="8.00" font-weight="500" fill="#444" letter-spacing="1.155" transform="translate(422.29 520.57) scale(1 0.88) translate(-422.29 -520.57)">０．５錠</text>
<text class="e" x="314.53" y="533.49" font-size="8.80" fill="#3a3a3a" letter-spacing="1.250">03</text>
<text class="m" x="338.00" y="533.54" font-size="8.00" font-weight="500" fill="#444" letter-spacing="1.259" transform="translate(339.00 530.60) scale(1 0.88) translate(-339.00 -530.60)">ジベトス錠５０ｍｇ</text>
<text class="m" x="520.14" y="533.54" font-size="8.00" fill="#5a5a5a" transform="translate(522.14 530.60) scale(1 0.88) translate(-522.14 -530.60)">２</text>
<text class="m" x="528.63" y="533.87" font-size="8.37" fill="#777" transform="translate(530.20 530.80) scale(1.1852 1.05) translate(-530.20 -530.80)">×</text>
<text class="m" x="546.50" y="533.54" font-size="8.00" fill="#5a5a5a" letter-spacing="1.778" transform="translate(548.50 530.60) scale(1 0.88) translate(-548.50 -530.60)">３５</text>
<text class="m" x="438.45" y="533.54" font-size="8.00" font-weight="500" fill="#444" letter-spacing="1.676" transform="translate(440.45 530.60) scale(1 0.88) translate(-440.45 -530.60)">２錠</text>
<text class="e" x="300.73" y="543.52" font-size="8.80" fill="#3a3a3a" letter-spacing="0.750">25</text>
<text class="e" x="314.53" y="543.52" font-size="8.80" fill="#3a3a3a" letter-spacing="1.387">01</text>
<text class="m" x="338.75" y="543.57" font-size="8.00" font-weight="500" fill="#444" letter-spacing="1.073" transform="translate(339.00 540.63) scale(1 0.88) translate(-339.00 -540.63)">処方料（その他）</text>
<text class="m" x="511.58" y="543.57" font-size="8.00" fill="#5a5a5a" letter-spacing="0.803" transform="translate(513.20 540.63) scale(1 0.88) translate(-513.20 -540.63)">４２</text>
<text class="m" x="528.63" y="543.90" font-size="8.37" fill="#777" transform="translate(530.20 540.83) scale(1.1852 1.05) translate(-530.20 -540.83)">×</text>
<text class="m" x="556.29" y="543.57" font-size="8.00" fill="#5a5a5a" transform="translate(558.54 540.63) scale(1 0.88) translate(-558.54 -540.63)">１</text>
<text class="e" x="314.53" y="553.55" font-size="8.80" fill="#3a3a3a" letter-spacing="1.387">02</text>
<text class="m" x="338.75" y="553.60" font-size="8.00" font-weight="500" fill="#444" letter-spacing="1.063" transform="translate(339.00 550.66) scale(1 0.88) translate(-339.00 -550.66)">長期投薬加算（処方料）</text>
<text class="m" x="511.33" y="553.60" font-size="8.00" fill="#5a5a5a" letter-spacing="1.053" transform="translate(513.20 550.66) scale(1 0.88) translate(-513.20 -550.66)">６５</text>
<text class="m" x="528.63" y="553.93" font-size="8.37" fill="#777" transform="translate(530.20 550.86) scale(1.1852 1.05) translate(-530.20 -550.86)">×</text>
<text class="m" x="556.29" y="553.60" font-size="8.00" fill="#5a5a5a" transform="translate(558.54 550.66) scale(1 0.88) translate(-558.54 -550.66)">１</text>
<text class="e" x="300.73" y="563.65" font-size="8.80" fill="#3a3a3a" letter-spacing="0.612">27</text>
<text class="e" x="314.53" y="563.58" font-size="8.80" fill="#3a3a3a" letter-spacing="1.387">01</text>
<text class="m" x="338.75" y="563.63" font-size="8.00" font-weight="500" fill="#444" letter-spacing="1.134" transform="translate(339.00 560.69) scale(1 0.88) translate(-339.00 -560.69)">調基（その他）</text>
<text class="m" x="520.20" y="563.63" font-size="8.00" fill="#5a5a5a" transform="translate(522.08 560.69) scale(1 0.88) translate(-522.08 -560.69)">８</text>
<text class="m" x="528.63" y="563.96" font-size="8.37" fill="#777" transform="translate(530.20 560.89) scale(1.1852 1.05) translate(-530.20 -560.89)">×</text>
<text class="m" x="556.29" y="563.63" font-size="8.00" fill="#5a5a5a" transform="translate(558.54 560.69) scale(1 0.88) translate(-558.54 -560.69)">１</text>
<text class="e" x="300.73" y="583.64" font-size="8.80" fill="#3a3a3a" letter-spacing="0.750">60</text>
<text class="e" x="314.53" y="583.64" font-size="8.80" fill="#3a3a3a" letter-spacing="1.387">01</text>
<text class="m" x="338.88" y="583.69" font-size="8.00" font-weight="500" fill="#444" letter-spacing="1.290" transform="translate(339.00 580.75) scale(1 0.88) translate(-339.00 -580.75)">尿一般</text>
<text class="m" x="511.20" y="583.69" font-size="8.00" fill="#5a5a5a" letter-spacing="1.303" transform="translate(513.20 580.75) scale(1 0.88) translate(-513.20 -580.75)">２６</text>
<text class="m" x="528.63" y="584.02" font-size="8.37" fill="#777" transform="translate(530.20 580.95) scale(1.1852 1.05) translate(-530.20 -580.95)">×</text>
<text class="m" x="556.29" y="583.69" font-size="8.00" fill="#5a5a5a" transform="translate(558.54 580.75) scale(1 0.88) translate(-558.54 -580.75)">１</text>
<text class="e" x="314.53" y="593.67" font-size="8.80" fill="#3a3a3a" letter-spacing="1.387">02</text>
<text class="m" x="338.38" y="593.97" font-size="8.00" font-weight="500" fill="#444" letter-spacing="1.344" transform="translate(339.00 590.78) scale(1 0.88) translate(-339.00 -590.78)">ＨｂＡ１ｃ</text>
<text class="m" x="511.20" y="593.72" font-size="8.00" fill="#5a5a5a" letter-spacing="1.053" transform="translate(513.20 590.78) scale(1 0.88) translate(-513.20 -590.78)">５０</text>
<text class="m" x="528.63" y="594.05" font-size="8.37" fill="#777" transform="translate(530.20 590.98) scale(1.1852 1.05) translate(-530.20 -590.98)">×</text>
<text class="m" x="556.29" y="593.72" font-size="8.00" fill="#5a5a5a" transform="translate(558.54 590.78) scale(1 0.88) translate(-558.54 -590.78)">１</text>
<text class="e" x="314.53" y="603.70" font-size="8.80" fill="#3a3a3a" letter-spacing="1.250">03</text>
<text class="m" x="338.25" y="603.75" font-size="8.00" font-weight="500" fill="#444" letter-spacing="1.347" transform="translate(339.00 600.81) scale(1 0.88) translate(-339.00 -600.81)">ＡＳＴ　ＡＬＴ　γ－ＧＴ　グルコース</text>
<text class="m" x="511.20" y="603.75" font-size="8.00" fill="#5a5a5a" letter-spacing="1.303" transform="translate(513.20 600.81) scale(1 0.88) translate(-513.20 -600.81)">５６</text>
<text class="m" x="528.63" y="604.08" font-size="8.37" fill="#777" transform="translate(530.20 601.01) scale(1.1852 1.05) translate(-530.20 -601.01)">×</text>
<text class="m" x="556.29" y="603.75" font-size="8.00" fill="#5a5a5a" transform="translate(558.54 600.81) scale(1 0.88) translate(-558.54 -600.81)">１</text>
<text class="e" x="314.53" y="613.73" font-size="8.80" fill="#3a3a3a" letter-spacing="1.112">04</text>
<text class="m" x="337.50" y="613.78" font-size="8.00" font-weight="500" fill="#444" letter-spacing="1.854" transform="translate(339.00 610.84) scale(1 0.88) translate(-339.00 -610.84)">Ｂ－Ｖ</text>
<text class="m" x="510.95" y="613.78" font-size="8.00" fill="#5a5a5a" letter-spacing="1.553" transform="translate(513.20 610.84) scale(1 0.88) translate(-513.20 -610.84)">１３</text>
<text class="m" x="528.63" y="614.11" font-size="8.37" fill="#777" transform="translate(530.20 611.04) scale(1.1852 1.05) translate(-530.20 -611.04)">×</text>
<text class="m" x="556.29" y="613.78" font-size="8.00" fill="#5a5a5a" transform="translate(558.54 610.84) scale(1 0.88) translate(-558.54 -610.84)">１</text>
<text class="e" x="314.53" y="623.76" font-size="8.80" fill="#3a3a3a" letter-spacing="1.250">05</text>
<text class="m" x="338.88" y="623.81" font-size="8.00" font-weight="500" fill="#444" letter-spacing="1.131" transform="translate(339.00 620.87) scale(1 0.88) translate(-339.00 -620.87)">生化学的検査（１）判断料</text>
<text class="m" x="502.25" y="623.81" font-size="8.00" fill="#5a5a5a" letter-spacing="0.940" transform="translate(504.50 620.87) scale(1 0.88) translate(-504.50 -620.87)">１４４</text>
<text class="m" x="528.63" y="624.14" font-size="8.37" fill="#777" transform="translate(530.20 621.07) scale(1.1852 1.05) translate(-530.20 -621.07)">×</text>
<text class="m" x="556.29" y="623.81" font-size="8.00" fill="#5a5a5a" transform="translate(558.54 620.87) scale(1 0.88) translate(-558.54 -620.87)">１</text>
<text class="e" x="314.53" y="633.79" font-size="8.80" fill="#3a3a3a" letter-spacing="1.112">06</text>
<text class="m" x="338.75" y="633.84" font-size="8.00" font-weight="500" fill="#444" letter-spacing="1.149" transform="translate(339.00 630.90) scale(1 0.88) translate(-339.00 -630.90)">血液学的検査判断料</text>
<text class="m" x="502.25" y="633.84" font-size="8.00" fill="#5a5a5a" letter-spacing="1.065" transform="translate(504.50 630.90) scale(1 0.88) translate(-504.50 -630.90)">１２５</text>
<text class="m" x="528.63" y="634.17" font-size="8.37" fill="#777" transform="translate(530.20 631.10) scale(1.1852 1.05) translate(-530.20 -631.10)">×</text>
<text class="m" x="556.29" y="633.84" font-size="8.00" fill="#5a5a5a" transform="translate(558.54 630.90) scale(1 0.88) translate(-558.54 -630.90)">１</text>
<text class="m" x="17.25" y="787.64" font-size="6.51" font-weight="500" fill="#444" transform="translate(17.35 785.20) scale(1 0.88) translate(-17.35 -785.20)">療</text><text class="m" x="17.25" y="797.09" font-size="6.51" font-weight="500" fill="#444" transform="translate(17.35 794.60) scale(1 0.88) translate(-17.35 -794.60)">養</text><text class="m" x="17.25" y="806.24" font-size="6.51" font-weight="500" fill="#444" transform="translate(17.86 804.00) scale(1 0.88) translate(-17.86 -804.00)">の</text><text class="m" x="17.25" y="815.74" font-size="6.51" font-weight="500" fill="#444" transform="translate(17.35 813.30) scale(1 0.88) translate(-17.35 -813.30)">給</text><text class="m" x="17.25" y="824.44" font-size="6.51" font-weight="500" fill="#444" transform="translate(17.35 822.00) scale(1 0.88) translate(-17.35 -822.00)">付</text><text class="m" x="27.25" y="775.14" font-size="6.51" font-weight="500" fill="#444" transform="translate(27.35 772.70) scale(1 0.88) translate(-27.35 -772.70)">保</text><text class="m" x="27.04" y="802.04" font-size="6.51" font-weight="500" fill="#444" transform="translate(27.55 799.60) scale(1 0.88) translate(-27.55 -799.60)">険</text>
<text class="m" x="27.25" y="820.79" font-size="6.51" font-weight="500" fill="#444" transform="translate(27.45 818.30) scale(1 0.88) translate(-27.45 -818.30)">①</text>
<text class="m" x="27.25" y="834.89" font-size="6.51" font-weight="500" fill="#444" transform="translate(27.45 832.40) scale(1 0.88) translate(-27.45 -832.40)">②</text>
<text class="m" x="89.05" y="808.55" font-size="8.00" font-weight="500" fill="#444" letter-spacing="1.427" transform="translate(91.30 806.30) scale(1 0.88) translate(-91.30 -806.30)">１，６１９</text>
<text class="m" x="135.59" y="808.86" font-size="5.86" font-weight="500" fill="#444" transform="translate(135.77 806.80) scale(1 0.88) translate(-135.77 -806.80)">点</text><text class="m" x="342.03" y="808.91" font-size="5.86" font-weight="500" fill="#444" transform="translate(342.67 806.80) scale(1 0.88) translate(-342.67 -806.80)">円</text><text class="m" x="135.59" y="823.56" font-size="5.86" font-weight="500" fill="#444" transform="translate(135.77 821.50) scale(1 0.88) translate(-135.77 -821.50)">点</text><text class="m" x="342.03" y="823.61" font-size="5.86" font-weight="500" fill="#444" transform="translate(342.67 821.50) scale(1 0.88) translate(-342.67 -821.50)">円</text><text class="m" x="135.59" y="837.06" font-size="5.86" font-weight="500" fill="#444" transform="translate(135.77 835.00) scale(1 0.88) translate(-135.77 -835.00)">点</text><text class="m" x="342.03" y="837.11" font-size="5.86" font-weight="500" fill="#444" transform="translate(342.67 835.00) scale(1 0.88) translate(-342.67 -835.00)">円</text>
<text class="j" x="234.38" y="809.17" font-size="8.00" font-weight="500" fill="#333" letter-spacing="0.703">1,619</text>
<text class="m" x="259.19" y="808.86" font-size="5.86" font-weight="500" fill="#444" transform="translate(259.37 806.80) scale(1 0.88) translate(-259.37 -806.80)">点</text><text class="m" x="259.19" y="823.56" font-size="5.86" font-weight="500" fill="#444" transform="translate(259.37 821.50) scale(1 0.88) translate(-259.37 -821.50)">点</text><text class="m" x="259.19" y="837.06" font-size="5.86" font-weight="500" fill="#444" transform="translate(259.37 835.00) scale(1 0.88) translate(-259.37 -835.00)">点</text>
<text class="m" x="362.43" y="822.76" font-size="6.98" font-weight="500" fill="#444" letter-spacing="0.657" transform="translate(363.30 820.20) scale(1 0.88) translate(-363.30 -820.20)">※高額療養費</text>
<text class="m" x="409.43" y="838.31" font-size="5.86" font-weight="500" fill="#444" transform="translate(410.07 836.20) scale(1 0.88) translate(-410.07 -836.20)">円</text>
<text class="m" x="422.93" y="822.76" font-size="6.98" font-weight="500" fill="#444" letter-spacing="0.856" transform="translate(423.80 820.20) scale(1 0.88) translate(-423.80 -820.20)">※公費負担点数①</text>
<text class="m" x="487.44" y="835.26" font-size="5.86" font-weight="500" fill="#444" transform="translate(487.62 833.20) scale(1 0.88) translate(-487.62 -833.20)">点</text>
<text class="m" x="498.83" y="822.76" font-size="6.98" font-weight="500" fill="#444" letter-spacing="0.884" transform="translate(499.70 820.20) scale(1 0.88) translate(-499.70 -820.20)">※公費負担点数②</text>
<text class="m" x="555.49" y="835.26" font-size="5.86" font-weight="500" fill="#444" transform="translate(555.67 833.20) scale(1 0.88) translate(-555.67 -833.20)">点</text>
<text class="j" x="121.89" y="868.09" font-size="8.60" font-weight="700" fill="#333" letter-spacing="0.471" transform="translate(123.10 865.00) scale(1 0.92) translate(-123.10 -865.00)">この明細書は、社会保険診療報酬支払基金が、保険医療機関・保険薬局から提出された電子レセプトについて</text>
<text class="j" x="122.97" y="879.79" font-size="8.60" font-weight="700" fill="#333" letter-spacing="0.492" transform="translate(123.10 876.70) scale(1 0.92) translate(-123.10 -876.70)">審査決定後、その請求情報に基づき作成したものです。</text>
<text class="j" x="375.92" y="879.50" font-size="7.80" font-weight="500" fill="#333" letter-spacing="0.300">Ver.000010823853722a84b51f07c0474a97d4418</text>
</g></svg>
<svg width="1287" height="927" viewBox="0 0 1287 927" fill="none" stroke-linecap="round" stroke-linejoin="round"><path d="M608.5 198.0L237.9 211.4M249.4 205.0L237.9 211.4L249.9 217.0" stroke="#3fa3e2" stroke-width="3.9"/><path d="M611.0 256.4L397.2 224.1M409.7 220.0L397.2 224.1L407.9 231.8" stroke="#3fa3e2" stroke-width="3.9"/><path d="M611.0 255.0L485.1 254.0M496.9 248.1L485.1 254.0L496.8 260.1" stroke="#3fa3e2" stroke-width="3.9"/><path d="M610.0 312.3L485.9 329.2M496.7 321.7L485.9 329.2L498.3 333.5" stroke="#3fa3e2" stroke-width="3.9"/><path d="M610.0 361.6L528.6 300.9M541.6 303.1L528.6 300.9L534.4 312.7" stroke="#3fa3e2" stroke-width="3.9"/><path d="M612.5 420.6L130.0 349.9M142.5 345.7L130.0 349.9L140.8 357.6" stroke="#3fa3e2" stroke-width="3.9"/></svg>
<svg width="1287" height="927" viewBox="0 0 1287 927" fill="none" stroke-linejoin="round"><rect x="115.1" y="215.1" width="119.8" height="18.7" stroke="#3fa3e2" stroke-width="3.4" rx="1"/><rect x="287.0" y="215.1" width="106.2" height="20.2" stroke="#3fa3e2" stroke-width="3.4" rx="1"/><rect x="287.0" y="245.4" width="194.3" height="16.4" stroke="#3fa3e2" stroke-width="3.4" rx="1"/><rect x="287.0" y="262.7" width="253.4" height="32.0" stroke="#3fa3e2" stroke-width="3.4" rx="1"/><rect x="292.9" y="303.2" width="188.6" height="52.5" stroke="#3fa3e2" stroke-width="3.4" rx="1"/><rect x="15.0" y="310.7" width="223.6" height="38.2" stroke="#3fa3e2" stroke-width="3.4" rx="1"/><rect x="12.5" y="359.9" width="555.4" height="54.6" stroke="#ee9440" stroke-width="3.4" rx="1"/><rect x="13.6" y="418.0" width="269.6" height="342.3" stroke="#b84f4d" stroke-width="3.2" rx="1"/><rect x="294.6" y="418.0" width="274.1" height="342.3" stroke="#b84f4d" stroke-width="3.2" rx="1"/><rect x="566.9" y="417.9" width="1.0" height="342.5" stroke="#b84f4d" stroke-width="1.0" rx="1"/><rect x="13.8" y="764.8" width="339.9" height="75.1" stroke="#3bab55" stroke-width="3.5" rx="1"/></svg>
<svg width="1287" height="927" viewBox="0 0 1287 927" fill="none" stroke-linecap="round" stroke-linejoin="round"><path d="M610.5 525.0L570.7 391.1M579.8 400.7L570.7 391.1L568.3 404.1" stroke="#ee9440" stroke-width="3.0"/><path d="M608.0 714.5L570.1 588.5M579.2 598.1L570.1 588.5L567.7 601.5" stroke="#b84f4d" stroke-width="3.0"/><path d="M607.5 890.7L357.1 802.7M370.2 801.0L357.1 802.7L366.2 812.3" stroke="#3bab55" stroke-width="3.8"/></svg>
<div class="b" style="left:607.40px;top:176.00px;width:172.60px;height:43.40px;background:#3dadf1;border-radius:1.5px;"></div>
<div class="b" style="left:610.00px;top:226.00px;width:172.00px;height:58.00px;background:#3dadf1;border-radius:1.5px;"></div>
<div class="b" style="left:609.00px;top:290.40px;width:172.50px;height:43.80px;background:#3dadf1;border-radius:1.5px;"></div>
<div class="b" style="left:609.40px;top:342.20px;width:198.60px;height:43.50px;background:#3dadf1;border-radius:1.5px;"></div>
<div class="b" style="left:611.80px;top:393.70px;width:196.20px;height:57.90px;background:#3dadf1;border-radius:1.5px;"></div>
<div class="b" style="left:609.90px;top:462.90px;width:198.10px;height:120.10px;background:#f0923c;border-radius:1.5px;"></div>
<div class="b" style="left:607.40px;top:595.40px;width:200.60px;height:249.60px;background:#b94c49;border-radius:1.5px;"></div>
<div class="b" style="left:606.90px;top:867.40px;width:113.10px;height:49.30px;background:#35ad4f;border-radius:1.5px;"></div>
<svg width="1287" height="927" viewBox="0 0 1287 927"><g >
<text class="j" x="47.25" y="49.00" font-size="36.00" font-weight="700" fill="#fff" letter-spacing="4.688" transform="translate(54.00 35.50) scale(1 0.97) translate(-54.00 -35.50)" stroke="#fff" stroke-width="0.5">ＮＤＢ</text><text class="j" x="169.94" y="49.28" font-size="36.00" font-weight="700" fill="#fff" letter-spacing="4.442" transform="translate(170.50 35.50) scale(1 0.95) translate(-170.50 -35.50)" stroke="#fff" stroke-width="0.5">収載情報</text><text class="j" x="330.18" y="49.28" font-size="36.00" font-weight="700" fill="#fff" transform="translate(353.80 35.50) scale(1.1378 0.95) translate(-353.80 -35.50)" stroke="#fff" stroke-width="0.5">（</text><text class="j" x="365.91" y="49.94" font-size="41.00" font-weight="700" fill="#fff" transform="translate(373.60 33.60) scale(1.0179 0.97) translate(-373.60 -33.60)" stroke="#fff" stroke-width="0.5">レセプト</text><text class="j" x="534.48" y="49.28" font-size="36.00" font-weight="700" fill="#fff" transform="translate(535.60 35.50) scale(1.1378 0.95) translate(-535.60 -35.50)" stroke="#fff" stroke-width="0.5">）</text>
<text class="d" x="201.44" y="142.67" font-size="25.00" font-weight="500" fill="#111" letter-spacing="0.232" transform="translate(215.50 133.10) scale(1 0.93) translate(-215.50 -133.10)">〈レセプト情報〉</text>
<text class="d" x="672.94" y="145.17" font-size="25.00" font-weight="500" fill="#111" letter-spacing="0.161" transform="translate(687.00 135.60) scale(1 0.95) translate(-687.00 -135.60)">〈匿名加工化等〉</text>
<text class="d" x="927.94" y="143.97" font-size="25.00" font-weight="500" fill="#111" letter-spacing="-0.048" transform="translate(942.00 134.60) scale(1 0.96) translate(-942.00 -134.60)">〈NDBから提供されるデータ〉</text>
<text class="j" x="1060.00" y="168.69" font-size="18.00" fill="#111">※</text><text class="d" x="1077.66" y="168.55" font-size="18.00" fill="#111" letter-spacing="0.800">CSV形式</text>
<text class="d" x="622.03" y="203.24" font-size="17.00" font-weight="900" fill="#fff" transform="translate(622.30 197.00) scale(1.0667 0.95) translate(-622.30 -197.00)" stroke="#fff" stroke-width="0.35">診療年月</text>
<text class="d" x="624.44" y="250.54" font-size="17.00" font-weight="900" fill="#fff" transform="translate(625.50 244.30) scale(1.02 0.95) translate(-625.50 -244.30)" stroke="#fff" stroke-width="0.35">医療機関コード、</text>
<text class="d" x="625.23" y="270.94" font-size="17.00" font-weight="900" fill="#fff" transform="translate(625.50 264.70) scale(0.9983 0.95) translate(-625.50 -264.70)" stroke="#fff" stroke-width="0.35">保険者コード</text>
<text class="d" x="625.23" y="318.54" font-size="17.00" font-weight="900" fill="#fff" transform="translate(625.50 312.30) scale(1.0543 0.95) translate(-625.50 -312.30)" stroke="#fff" stroke-width="0.35">保険医療機関名</text>
<text class="d" x="624.80" y="369.04" font-size="17.00" font-weight="900" fill="#fff" transform="translate(624.80 362.80) scale(1.0591 0.95) translate(-624.80 -362.80)" stroke="#fff" stroke-width="0.35">被保険者記号･番号</text>
<text class="d" x="626.50" y="418.04" font-size="17.00" font-weight="900" fill="#fff" transform="translate(627.30 411.80) scale(1.0179 0.95) translate(-627.30 -411.80)" stroke="#fff" stroke-width="0.35">氏名、性別、</text>
<text class="d" x="627.03" y="439.24" font-size="17.00" font-weight="900" fill="#fff" transform="translate(627.30 433.00) scale(1.0623 0.95) translate(-627.30 -433.00)" stroke="#fff" stroke-width="0.35">生年月日</text>
<text class="d" x="624.80" y="507.24" font-size="17.00" font-weight="900" fill="#fff" transform="translate(624.80 501.00) scale(1.0565 0.95) translate(-624.80 -501.00)" stroke="#fff" stroke-width="0.35">傷病名</text>
<text class="j" x="624.40" y="528.70" font-size="17.50" fill="#fff">→</text><text class="d" x="643.40" y="528.24" font-size="17.00" font-weight="900" fill="#fff" transform="translate(643.40 522.00) scale(0.9491 0.95) translate(-643.40 -522.00)" stroke="#fff" stroke-width="0.35">傷病名コード</text>
<text class="d" x="624.53" y="548.74" font-size="17.00" font-weight="900" fill="#fff" transform="translate(624.80 542.50) scale(1.0182 0.95) translate(-624.80 -542.50)" stroke="#fff" stroke-width="0.35">転帰、診療実日数</text>
<text class="d" x="622.03" y="620.24" font-size="17.00" font-weight="900" fill="#fff" transform="translate(622.30 614.00) scale(1.0669 0.95) translate(-622.30 -614.00)" stroke="#fff" stroke-width="0.35">診療行為</text>
<text class="j" x="622.25" y="641.40" font-size="17.50" fill="#fff">→</text><text class="d" x="640.73" y="640.94" font-size="17.00" font-weight="900" fill="#fff" transform="translate(641.00 634.70) scale(0.9858 0.95) translate(-641.00 -634.70)" stroke="#fff" stroke-width="0.35">診療行為コード</text>
<text class="d" x="632.84" y="663.24" font-size="17.00" font-weight="900" fill="#fff" transform="translate(634.70 657.00) scale(1.0574 0.95) translate(-634.70 -657.00)" stroke="#fff" stroke-width="0.35">12再診</text>
<text class="d" x="632.84" y="684.74" font-size="17.00" font-weight="900" fill="#fff" transform="translate(634.70 678.50) scale(1.07 0.95) translate(-634.70 -678.50)" stroke="#fff" stroke-width="0.35">13医学管理</text>
<text class="d" x="632.84" y="706.24" font-size="17.00" font-weight="900" fill="#fff" transform="translate(634.70 700.00) scale(1.0624 0.95) translate(-634.70 -700.00)" stroke="#fff" stroke-width="0.35">14在宅</text>
<text class="d" x="633.37" y="727.74" font-size="17.00" font-weight="900" fill="#fff" transform="translate(634.70 721.50) scale(1.0524 0.95) translate(-634.70 -721.50)" stroke="#fff" stroke-width="0.35">20投薬</text>
<text class="d" x="633.64" y="749.24" font-size="17.00" font-weight="900" fill="#fff" transform="translate(634.70 743.00) scale(1.0474 0.95) translate(-634.70 -743.00)" stroke="#fff" stroke-width="0.35">30注射</text>
<text class="d" x="634.17" y="770.74" font-size="17.00" font-weight="900" fill="#fff" transform="translate(634.70 764.50) scale(1.0425 0.95) translate(-634.70 -764.50)" stroke="#fff" stroke-width="0.35">40処置</text>
<text class="d" x="633.64" y="792.24" font-size="17.00" font-weight="900" fill="#fff" transform="translate(634.70 786.00) scale(1.0474 0.95) translate(-634.70 -786.00)" stroke="#fff" stroke-width="0.35">50手術</text>
<text class="d" x="633.90" y="813.74" font-size="17.00" font-weight="900" fill="#fff" transform="translate(634.70 807.50) scale(1.0425 0.95) translate(-634.70 -807.50)" stroke="#fff" stroke-width="0.35">60検査</text>
<text class="d" x="633.64" y="835.24" font-size="17.00" font-weight="900" fill="#fff" transform="translate(634.70 829.00) scale(0.9949 0.95) translate(-634.70 -829.00)" stroke="#fff" stroke-width="0.35">70画像　等</text>
<text class="d" x="622.03" y="897.24" font-size="17.00" font-weight="900" fill="#fff" transform="translate(622.30 891.00) scale(1.0585 0.95) translate(-622.30 -891.00)" stroke="#fff" stroke-width="0.35">請求点数</text>
<text class="j" x="784.67" y="206.18" font-size="17.00" font-weight="500" transform="translate(785.20 199.80) scale(1.1973 1) translate(-785.20 -199.80)">⇒</text><text class="j" x="805.08" y="206.18" font-size="18.20" font-weight="900" transform="translate(806.50 199.50) scale(1.1025 1) translate(-806.50 -199.50)">そのまま</text>
<text class="j" x="784.67" y="264.68" font-size="17.00" font-weight="500" transform="translate(785.20 258.30) scale(1.1973 1) translate(-785.20 -258.30)">⇒</text><text class="j" x="805.08" y="264.68" font-size="18.20" font-weight="900" transform="translate(806.50 258.00) scale(1.1025 1) translate(-806.50 -258.00)">そのまま</text>
<text class="j" x="784.67" y="320.68" font-size="17.00" font-weight="500" transform="translate(785.20 314.30) scale(1.1973 1) translate(-785.20 -314.30)">⇒</text><text class="j" x="806.22" y="320.68" font-size="18.20" font-weight="900" transform="translate(806.50 314.00) scale(1.03 1) translate(-806.50 -314.00)">削除</text>
<text class="j" x="811.27" y="367.48" font-size="17.00" font-weight="500" transform="translate(811.80 361.10) scale(1.1973 1) translate(-811.80 -361.10)">⇒</text><text class="j" x="832.53" y="367.48" font-size="18.20" font-weight="900" transform="translate(833.10 360.80) scale(1.0749 1) translate(-833.10 -360.80)">ハッシュ化</text>
<text class="j" x="814.47" y="413.68" font-size="17.00" font-weight="500" transform="translate(815.00 407.30) scale(1.1973 1) translate(-815.00 -407.30)">⇒</text><text class="j" x="835.73" y="413.68" font-size="18.20" font-weight="900" transform="translate(836.30 407.00) scale(1.0819 1) translate(-836.30 -407.00)">ハッシュ化し</text>
<text class="j" x="830.35" y="437.97" font-size="18.20" font-weight="900" transform="translate(831.20 431.00) scale(1.0978 1) translate(-831.20 -431.00)">氏名・日を</text>
<text class="j" x="834.72" y="460.82" font-size="18.20" font-weight="900" transform="translate(835.00 454.00) scale(1.066 1) translate(-835.00 -454.00)">削除</text>
<text class="j" x="814.47" y="529.97" font-size="17.00" font-weight="500" transform="translate(815.00 523.60) scale(1.1973 1) translate(-815.00 -523.60)">⇒</text><text class="j" x="834.88" y="529.98" font-size="18.20" font-weight="900" transform="translate(836.30 523.30) scale(1.1054 1) translate(-836.30 -523.30)">そのまま</text>
<text class="j" x="814.47" y="713.57" font-size="17.00" font-weight="500" transform="translate(815.00 707.20) scale(1.1973 1) translate(-815.00 -707.20)">⇒</text><text class="j" x="834.88" y="713.58" font-size="18.20" font-weight="900" transform="translate(836.30 706.90) scale(1.1054 1) translate(-836.30 -706.90)">そのまま</text>
<text class="j" x="722.47" y="895.97" font-size="17.00" font-weight="500" transform="translate(723.00 889.60) scale(1.1973 1) translate(-723.00 -889.60)">⇒</text><text class="j" x="742.88" y="895.98" font-size="18.20" font-weight="900" transform="translate(744.30 889.30) scale(1.1025 1) translate(-744.30 -889.30)">そのまま</text>
<text class="d" x="959.31" y="223.36" font-size="25.50" fill="#111" transform="translate(961.70 214.00) scale(0.9429 1) translate(-961.70 -214.00)" stroke="#111" stroke-width="0.35">R</text><text class="d" x="976.71" y="223.36" font-size="25.50" fill="#111" transform="translate(979.10 214.00) scale(0.9472 1) translate(-979.10 -214.00)" stroke="#111" stroke-width="0.35">E</text><text class="j" x="991.62" y="223.00" font-size="24.50" font-weight="500" fill="#111" transform="translate(996.60 214.00) scale(1.0604 1) translate(-996.60 -214.00)">レコード</text><text class="d" x="1093.25" y="223.76" font-size="25.50" fill="#111">・</text><text class="d" x="1118.75" y="223.76" font-size="25.50" fill="#111">・</text><text class="d" x="1144.25" y="223.76" font-size="25.50" fill="#111">・</text><text class="d" x="1167.80" y="222.20" font-size="35.00" fill="#111">,</text><text class="d" x="1177.25" y="223.76" font-size="25.50" fill="#111">・</text><text class="d" x="1202.95" y="223.76" font-size="25.50" fill="#111">・</text><text class="d" x="1228.45" y="223.76" font-size="25.50" fill="#111">・</text>
<text class="j" x="959.43" y="246.90" font-size="17.70" fill="#111" letter-spacing="0.303">（レセプト共通レコード）</text>
<text class="d" x="960.50" y="268.52" font-size="16.00" fill="#111">・</text>
<text class="d" x="960.50" y="289.93" font-size="16.00" fill="#111">・</text>
<text class="d" x="960.50" y="311.52" font-size="16.00" fill="#111">・</text>
<text class="k" x="958.81" y="339.36" font-size="25.50" fill="#111" transform="translate(961.20 330.00) scale(0.6972 1) translate(-961.20 -330.00)" stroke="#111" stroke-width="0.35">I</text><text class="d" x="970.61" y="339.36" font-size="25.50" fill="#111" transform="translate(973.00 330.00) scale(0.97 1) translate(-973.00 -330.00)" stroke="#111" stroke-width="0.35">R</text><text class="j" x="985.42" y="339.00" font-size="24.50" font-weight="500" fill="#111" transform="translate(990.40 330.00) scale(1.0538 1) translate(-990.40 -330.00)">レコード</text><text class="d" x="1084.25" y="339.76" font-size="25.50" fill="#111">・</text><text class="d" x="1111.25" y="339.76" font-size="25.50" fill="#111">・</text><text class="d" x="1145.80" y="338.20" font-size="35.00" fill="#111">,</text><text class="d" x="1162.25" y="339.76" font-size="25.50" fill="#111">・</text><text class="d" x="1187.85" y="339.76" font-size="25.50" fill="#111">・</text><text class="d" x="1213.25" y="339.76" font-size="25.50" fill="#111">・</text>
<text class="j" x="959.43" y="364.20" font-size="17.70" fill="#111" letter-spacing="0.303">（医療機関情報レコード）</text>
<text class="d" x="960.50" y="384.52" font-size="16.00" fill="#111">・</text>
<text class="d" x="960.50" y="406.12" font-size="16.00" fill="#111">・</text>
<text class="d" x="960.50" y="428.12" font-size="16.00" fill="#111">・</text>
<text class="d" x="959.01" y="454.56" font-size="25.50" fill="#111" transform="translate(961.40 445.20) scale(1.0667 1) translate(-961.40 -445.20)" stroke="#111" stroke-width="0.35">H</text><text class="d" x="979.30" y="454.56" font-size="25.50" fill="#111" transform="translate(980.50 445.20) scale(0.9925 1) translate(-980.50 -445.20)" stroke="#111" stroke-width="0.35">O</text><text class="j" x="996.02" y="454.20" font-size="24.50" font-weight="500" fill="#111" transform="translate(1001.00 445.20) scale(1.0526 1) translate(-1001.00 -445.20)">レコード</text><text class="d" x="1098.65" y="454.96" font-size="25.50" fill="#111">・</text><text class="d" x="1123.85" y="454.96" font-size="25.50" fill="#111">・</text><text class="d" x="1156.95" y="454.96" font-size="25.50" fill="#111">・</text><text class="d" x="1181.00" y="453.40" font-size="35.00" fill="#111">,</text><text class="d" x="1199.05" y="454.96" font-size="25.50" fill="#111">・</text><text class="d" x="1224.55" y="454.96" font-size="25.50" fill="#111">・</text><text class="d" x="1250.15" y="454.96" font-size="25.50" fill="#111">・</text>
<text class="j" x="959.43" y="479.50" font-size="17.70" fill="#111" letter-spacing="0.430">（保険者レコード）</text>
<text class="d" x="960.50" y="500.93" font-size="16.00" fill="#111">・</text>
<text class="d" x="960.50" y="523.42" font-size="16.00" fill="#111">・</text>
<text class="d" x="960.50" y="544.52" font-size="16.00" fill="#111">・</text>
<text class="d" x="959.41" y="572.66" font-size="25.50" fill="#111" transform="translate(961.00 563.30) scale(1.1073 1) translate(-961.00 -563.30)" stroke="#111" stroke-width="0.35">S</text><text class="d" x="977.10" y="572.66" font-size="25.50" fill="#111" transform="translate(976.70 563.30) scale(0.9917 1) translate(-976.70 -563.30)" stroke="#111" stroke-width="0.35">Y</text><text class="j" x="990.42" y="572.30" font-size="24.50" font-weight="500" fill="#111" transform="translate(995.40 563.30) scale(1.0604 1) translate(-995.40 -563.30)">レコード</text><text class="d" x="1091.65" y="573.06" font-size="25.50" fill="#111">・</text><text class="d" x="1117.25" y="573.06" font-size="25.50" fill="#111">・</text><text class="d" x="1142.85" y="573.06" font-size="25.50" fill="#111">・</text><text class="d" x="1175.00" y="571.50" font-size="35.00" fill="#111">,</text><text class="d" x="1193.05" y="573.06" font-size="25.50" fill="#111">・</text><text class="d" x="1218.55" y="573.06" font-size="25.50" fill="#111">・</text><text class="d" x="1244.15" y="573.06" font-size="25.50" fill="#111">・</text>
<text class="j" x="959.43" y="596.90" font-size="17.70" fill="#111" letter-spacing="0.430">（傷病名レコード）</text>
<text class="d" x="960.50" y="618.12" font-size="16.00" fill="#111">・</text>
<text class="d" x="960.50" y="640.12" font-size="16.00" fill="#111">・</text>
<text class="d" x="960.50" y="661.12" font-size="16.00" fill="#111">・</text>
<text class="d" x="959.41" y="689.96" font-size="25.50" fill="#111" transform="translate(961.00 680.60) scale(1.1146 1) translate(-961.00 -680.60)" stroke="#111" stroke-width="0.35">S</text><text class="k" x="975.61" y="689.96" font-size="25.50" fill="#111" transform="translate(978.00 680.60) scale(0.6321 1) translate(-978.00 -680.60)" stroke="#111" stroke-width="0.35">I</text><text class="j" x="983.62" y="689.60" font-size="24.50" font-weight="500" fill="#111" transform="translate(988.60 680.60) scale(1.067 1) translate(-988.60 -680.60)">レコード</text><text class="d" x="1085.65" y="690.36" font-size="25.50" fill="#111">・</text><text class="d" x="1111.25" y="690.36" font-size="25.50" fill="#111">・</text><text class="d" x="1136.75" y="690.36" font-size="25.50" fill="#111">・</text><text class="d" x="1169.00" y="688.80" font-size="35.00" fill="#111">,</text><text class="d" x="1187.05" y="690.36" font-size="25.50" fill="#111">・</text><text class="d" x="1212.55" y="690.36" font-size="25.50" fill="#111">・</text><text class="d" x="1238.15" y="690.36" font-size="25.50" fill="#111">・</text>
<text class="j" x="959.43" y="714.10" font-size="17.70" fill="#111" letter-spacing="0.338">（診療行為レコード）</text>
<text class="d" x="960.50" y="734.12" font-size="16.00" fill="#111">・</text>
<text class="d" x="960.50" y="756.42" font-size="16.00" fill="#111">・</text>
<text class="d" x="960.50" y="778.42" font-size="16.00" fill="#111">・</text>
<text class="k" x="958.81" y="805.66" font-size="25.50" fill="#111" transform="translate(961.20 796.30) scale(0.6972 1) translate(-961.20 -796.30)" stroke="#111" stroke-width="0.35">I</text><text class="d" x="969.60" y="805.66" font-size="25.50" fill="#111" transform="translate(969.20 796.30) scale(1.0345 1) translate(-969.20 -796.30)" stroke="#111" stroke-width="0.35">Y</text><text class="j" x="983.62" y="805.30" font-size="24.50" font-weight="500" fill="#111" transform="translate(988.60 796.30) scale(1.067 1) translate(-988.60 -796.30)">レコード</text><text class="d" x="1085.65" y="806.06" font-size="25.50" fill="#111">・</text><text class="d" x="1111.25" y="806.06" font-size="25.50" fill="#111">・</text><text class="d" x="1136.75" y="806.06" font-size="25.50" fill="#111">・</text><text class="d" x="1169.00" y="804.50" font-size="35.00" fill="#111">,</text><text class="d" x="1187.05" y="806.06" font-size="25.50" fill="#111">・</text><text class="d" x="1212.55" y="806.06" font-size="25.50" fill="#111">・</text><text class="d" x="1238.15" y="806.06" font-size="25.50" fill="#111">・</text>
<text class="j" x="959.43" y="829.30" font-size="17.70" fill="#111" letter-spacing="0.430">（医薬品レコード）</text>
<text class="d" x="960.50" y="851.52" font-size="16.00" fill="#111">・</text>
<text class="d" x="960.50" y="873.73" font-size="16.00" fill="#111">・</text>
<text class="d" x="960.50" y="894.73" font-size="16.00" fill="#111">・</text>
<text class="s" x="1235.14" y="873.96" font-size="18.50" fill="#111">3</text>
</g></svg>
</div>
</body>
</html>
